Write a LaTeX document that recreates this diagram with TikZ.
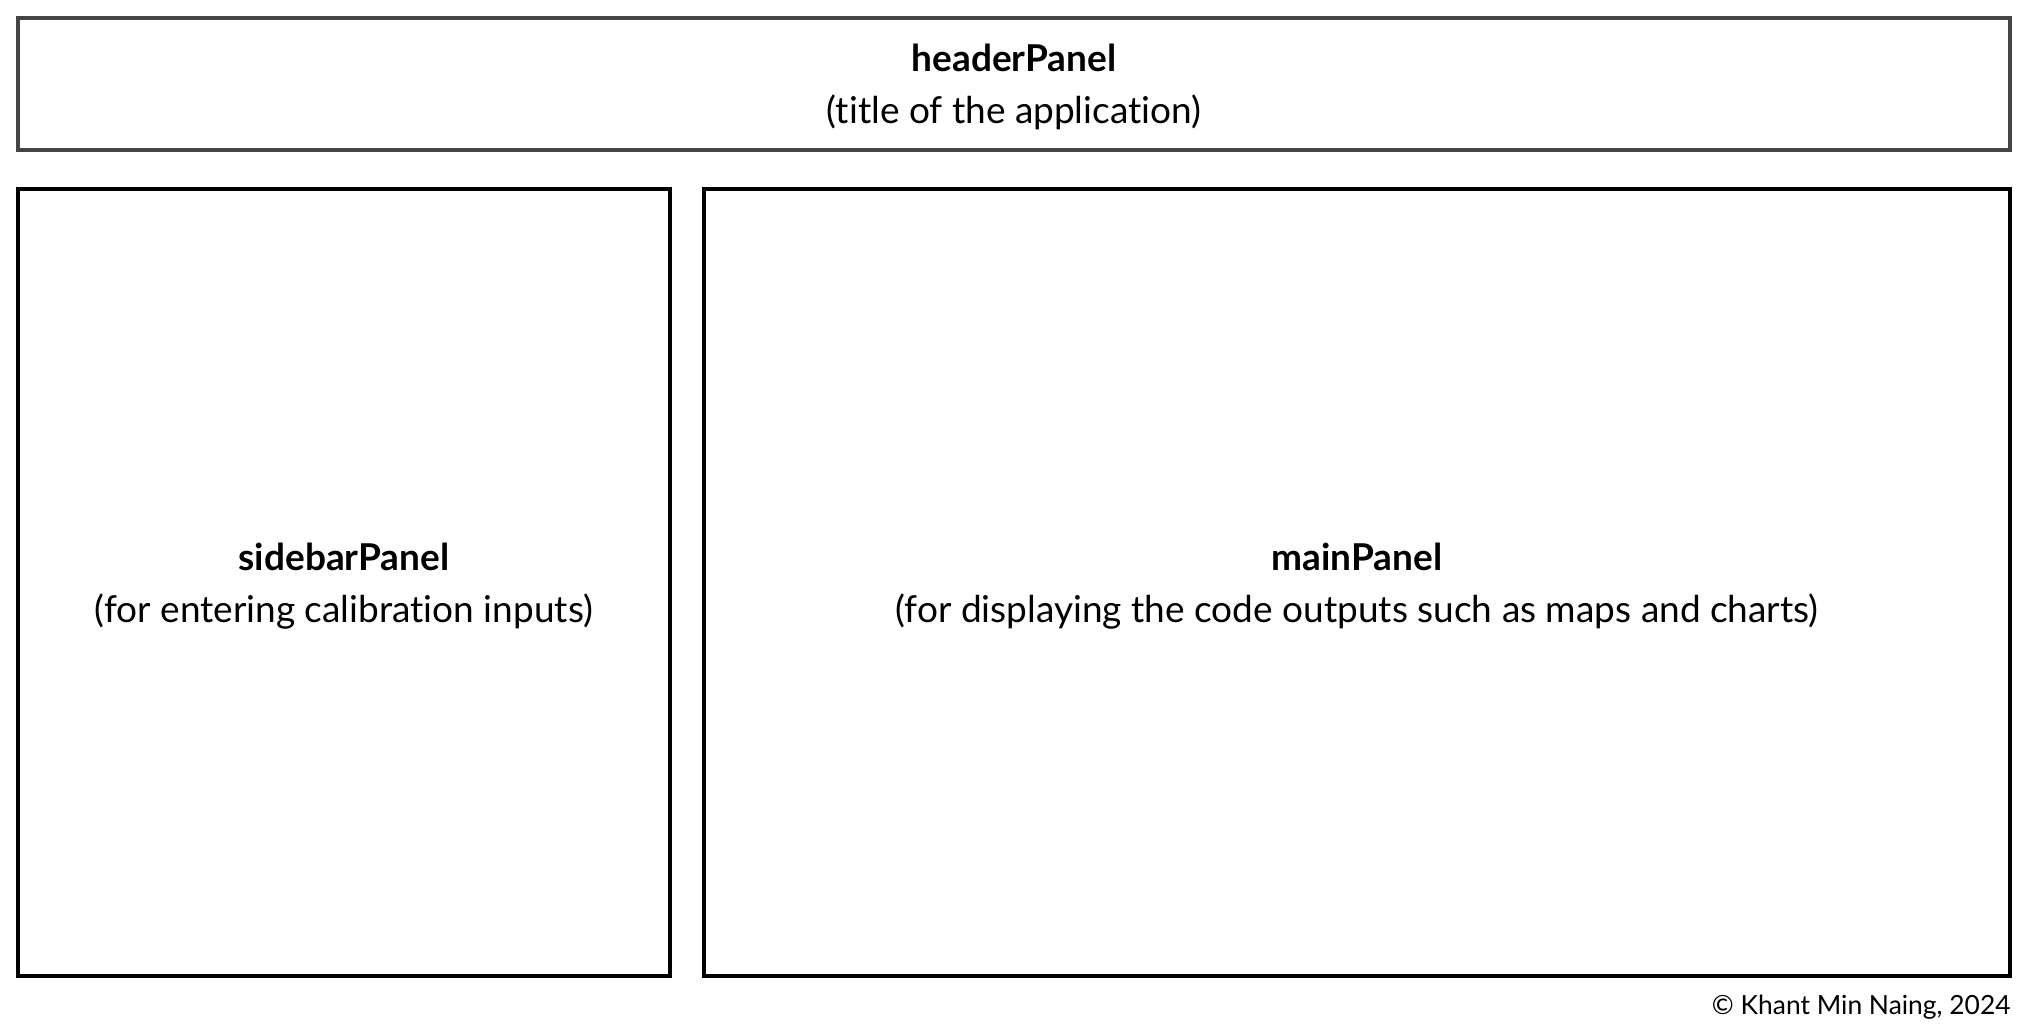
\documentclass[tikz,border=0pt]{standalone}
\usepackage{fontspec}
\setmainfont{Lato}[Ligatures=NoCommon]
\usepackage{tikz}
\usetikzlibrary{positioning}

\tikzset{
  panel/.style={draw=black, line width=2pt, rectangle},
  headpanel/.style={panel, draw=black!73, line width=1.6pt},
  paneltext/.style={align=center, inner sep=0pt, font=\fontsize{18.5}{26}\selectfont}
}

\begin{document}
\begin{tikzpicture}[x=0.5pt, y=-0.5pt]
\useasboundingbox (0,0) rectangle (2028,1034);
% --- header ---
\node[headpanel, minimum width=996pt, minimum height=66pt] (header) at (1014,84) {};
\node[paneltext] (headerText) at ([yshift=-1.6pt]header.center)
  {\textbf{headerPanel}\\(title of the application)};
% --- sidebar and main ---
\node[panel, minimum width=326pt, minimum height=393.5pt] (sidebar) at (344,582.5) {};
\node[paneltext] (sidebarText) at ([yshift=-1.6pt]sidebar.center)
  {\textbf{sidebarPanel}\\(for entering calibration inputs)};
\node[panel, minimum width=653pt, minimum height=393.5pt] (main) at (1357,582.5) {};
\node[paneltext] (mainText) at ([yshift=-1.6pt]main.center)
  {\textbf{mainPanel}\\(for displaying the code outputs such as maps and charts)};
% --- footer ---
\node[anchor=east, inner sep=0pt, font=\fontsize{13.2}{15}\selectfont] (credit) at (2011,1007)
  {© Khant Min Naing, 2024};
\end{tikzpicture}
\end{document}
